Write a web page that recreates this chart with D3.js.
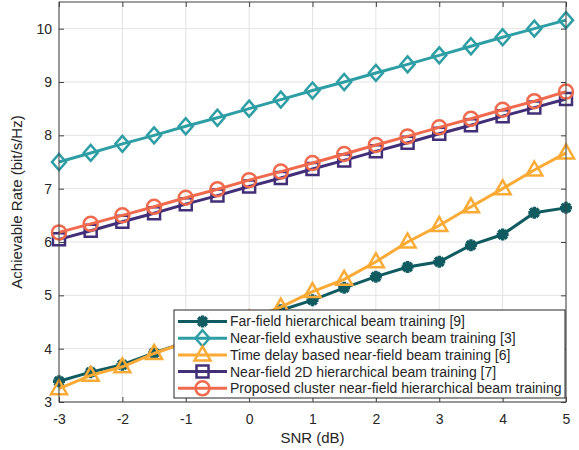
<!DOCTYPE html>
<html>
<head>
<meta charset="utf-8">
<script src="https://cdn.jsdelivr.net/npm/d3@7"></script>
<style>
  body { margin: 0; background: #fff; }
  text { font-family: "Liberation Sans", Arial, sans-serif; fill: #262626; }
</style>
</head>
<body>
<div class="svgContainer"></div>
<script>
// Data
var SNR = [-3, -2.5, -2, -1.5, -1, -0.5, 0, 0.5, 1, 1.5, 2, 2.5, 3, 3.5, 4, 4.5, 5];
var farField = [3.39, 3.56, 3.70, 3.92, 4.12, 4.32, 4.52, 4.72, 4.91, 5.14, 5.35, 5.53, 5.63, 5.94, 6.14, 6.55, 6.64];
var exhaustive = [7.50, 7.67, 7.84, 8.00, 8.17, 8.33, 8.50, 8.67, 8.84, 9.00, 9.17, 9.33, 9.50, 9.67, 9.84, 10.00, 10.16];
var timeDelay = [3.25, 3.50, 3.66, 3.91, 4.12, 4.33, 4.55, 4.78, 5.07, 5.30, 5.63, 6.00, 6.31, 6.66, 7.00, 7.35, 7.67];
var nf2D = [6.05, 6.21, 6.38, 6.54, 6.71, 6.87, 7.04, 7.20, 7.37, 7.53, 7.70, 7.86, 8.03, 8.19, 8.36, 8.52, 8.68];
var proposed = [6.18, 6.34, 6.50, 6.66, 6.83, 6.99, 7.16, 7.32, 7.48, 7.65, 7.82, 7.98, 8.15, 8.31, 8.48, 8.64, 8.82];
var X_TICKS = [-3, -2, -1, 0, 1, 2, 3, 4, 5];
var Y_TICKS = [3, 4, 5, 6, 7, 8, 9, 10];

var series = [
    {name: "Far-field hierarchical beam training [9]", values: farField, color: "#0f5b60", marker: "asterisk"},
    {name: "Near-field exhaustive search beam training [3]", values: exhaustive, color: "#2e9ea5", marker: "diamond"},
    {name: "Time delay based near-field beam training [6]", values: timeDelay, color: "#fbaa35", marker: "triangle"},
    {name: "Near-field 2D hierarchical beam training [7]", values: nf2D, color: "#432f78", marker: "square"},
    {name: "Proposed cluster near-field hierarchical beam training", values: proposed, color: "#f06a4e", marker: "circle"}
];

var margin = {left: 59, right: 13, top: 2, bottom: 48},
    width = 579 - margin.left - margin.right,
    height = 450 - margin.top - margin.bottom;

var svg = d3.select(".svgContainer").append("svg")
    .attr("width", 579)
    .attr("height", 450)
    .append("g")
    .attr("transform", "translate(" + margin.left + "," + margin.top + ")");

var scaleX = d3.scaleLinear().domain([-3, 5]).range([0, width]);
var scaleY = d3.scaleLinear().domain([3, 10.5]).range([height, 0]);

// plain hyphen minus like the original
var fmt = function(d) { return String(d); };

// grid
svg.selectAll(".gx").data(X_TICKS).enter().append("line")
    .attr("x1", function(d) { return scaleX(d); }).attr("x2", function(d) { return scaleX(d); })
    .attr("y1", 0).attr("y2", height)
    .attr("stroke", "#e3e3e3").attr("stroke-width", 1);
svg.selectAll(".gy").data(Y_TICKS).enter().append("line")
    .attr("y1", function(d) { return scaleY(d); }).attr("y2", function(d) { return scaleY(d); })
    .attr("x1", 0).attr("x2", width)
    .attr("stroke", "#e3e3e3").attr("stroke-width", 1);

// axes with inward ticks
function styleAxis(g) {
    g.select(".domain").remove();
    g.selectAll(".tick line").attr("stroke", "#404040");
    g.selectAll(".tick text").style("font-size", "14px").attr("fill", "#262626");
}
svg.append("g").attr("transform", "translate(0," + height + ")")
    .call(d3.axisBottom(scaleX).tickValues(X_TICKS).tickSizeInner(-5).tickPadding(12).tickFormat(fmt))
    .call(styleAxis);
svg.append("g")
    .call(d3.axisTop(scaleX).tickValues(X_TICKS).tickSizeInner(-5).tickFormat(""))
    .call(styleAxis);
svg.append("g")
    .call(d3.axisLeft(scaleY).tickValues(Y_TICKS).tickSizeInner(-5).tickPadding(7).tickFormat(fmt))
    .call(styleAxis);
svg.append("g").attr("transform", "translate(" + width + ",0)")
    .call(d3.axisRight(scaleY).tickValues(Y_TICKS).tickSizeInner(-5).tickFormat(""))
    .call(styleAxis);

// markers
function markerPath(type) {
    if (type === "asterisk") {
        var r = 6, q = r * Math.SQRT1_2;
        return "M" + (-r) + ",0L" + r + ",0M0," + (-r) + "L0," + r +
               "M" + (-q) + "," + (-q) + "L" + q + "," + q + "M" + (-q) + "," + q + "L" + q + "," + (-q);
    }
    if (type === "diamond") return "M0,-8L7,0L0,8L-7,0Z";
    if (type === "triangle") return "M0,-8.5L8,5.5L-8,5.5Z";
    if (type === "square") return "M-6,-6L6,-6L6,6L-6,6Z";
    return d3.arc()({innerRadius: 0, outerRadius: 7, startAngle: 0, endAngle: 2 * Math.PI});
}

var line = d3.line()
    .x(function(d, i) { return scaleX(SNR[i]); })
    .y(function(d) { return scaleY(d); });

series.forEach(function(s) {
    var g = svg.append("g");
    g.append("path").attr("d", line(s.values))
        .attr("fill", "none").attr("stroke", s.color).attr("stroke-width", 3);
    g.selectAll("path.m").data(s.values).enter().append("path")
        .attr("class", "m")
        .attr("d", markerPath(s.marker))
        .attr("transform", function(d, i) { return "translate(" + scaleX(SNR[i]) + "," + scaleY(d) + ")"; })
        .attr("fill", s.marker === "asterisk" ? s.color : "none")
        .attr("stroke", s.color).attr("stroke-width", s.marker === "asterisk" ? 3.5 : 2.5);
});

// box
svg.append("rect").attr("width", width).attr("height", height)
    .attr("fill", "none").attr("stroke", "#404040").attr("stroke-width", 1);

// axis labels
svg.append("text").attr("x", width / 2).attr("y", height + 41)
    .attr("text-anchor", "middle").style("font-size", "15px").text("SNR (dB)");
svg.append("text").attr("transform", "translate(-37," + (height / 2) + ") rotate(-90)")
    .attr("text-anchor", "middle").style("font-size", "15px").text("Achievable Rate (bit/s/Hz)");

// legend
var legX = 174 - margin.left, legY = 310 - margin.top, legW = 391, legH = 88, rowH = 16.7;
var leg = svg.append("g").attr("transform", "translate(" + legX + "," + legY + ")");
leg.append("rect").attr("width", legW).attr("height", legH)
    .attr("fill", "#fff").attr("stroke", "#262626").attr("stroke-width", 1);
series.forEach(function(s, i) {
    var y = 11.5 + i * rowH;
    leg.append("line").attr("x1", 4).attr("x2", 53).attr("y1", y).attr("y2", y)
        .attr("stroke", s.color).attr("stroke-width", 3);
    leg.append("path").attr("d", markerPath(s.marker))
        .attr("transform", "translate(28.5," + y + ")")
        .attr("fill", s.marker === "asterisk" ? s.color : "none")
        .attr("stroke", s.color).attr("stroke-width", s.marker === "asterisk" ? 3.5 : 2.5);
    leg.append("text").attr("x", 56).attr("y", y).attr("dy", "0.35em")
        .style("font-size", "14px").text(s.name);
});
</script>
</body>
</html>
